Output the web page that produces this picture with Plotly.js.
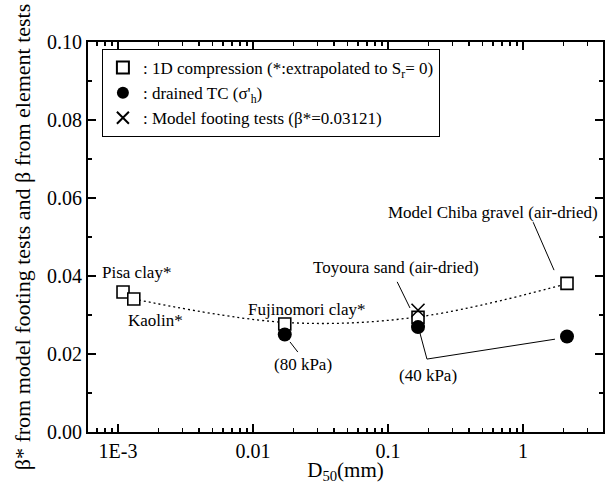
<!DOCTYPE html>
<html>
<head>
<meta charset="utf-8">
<script src="https://cdn.plot.ly/plotly-3.0.1.min.js"></script>
<style>
html,body{margin:0;padding:0;background:#fff;}
#chart{width:606px;height:484px;}
</style>
</head>
<body>
<div id="chart"></div>
<script>
// ---- data (D50 in mm, beta values) ----
const d50_1d  = [0.00109, 0.00131, 0.0172, 0.167, 2.12];
const beta_1d = [0.0359, 0.0341, 0.0277, 0.0294, 0.0381];
const d50_tc  = [0.0172, 0.167, 2.12];
const beta_tc = [0.0250, 0.0269, 0.0245];
const d50_fm  = [0.167];
const beta_fm = [0.03121];
// dotted trend curve
const fit_x = [0.00131, 0.0172, 0.167, 2.12];
const fit_y = [0.0341, 0.0281, 0.0295, 0.0380];
// tick labels
const xTickVals = [0.001, 0.01, 0.1, 1];
const xTickText = ['1E-3', '0.01', '0.1', '1'];
// text labels
const labelText = ['Pisa clay*', 'Kaolin*', 'Fujinomori clay*', 'Toyoura sand (air-dried)', 'Model Chiba gravel (air-dried)', '(80 kPa)', '(40 kPa)'];
const labelX    = [0.00138, 0.00191, 0.025, 0.1146, 0.600, 0.0234, 0.1977];
const labelY    = [0.0408, 0.0287, 0.0313, 0.0421, 0.0564, 0.0172, 0.0146];
// leader lines
const leaders = [
  {x: [1.19, 1.70], y: [0.0538, 0.0415]},
  {x: [0.117, 0.1456], y: [0.0385, 0.0318]},
  {x: [0.0188, 0.0215], y: [0.0231, 0.0205]},
  {x: [0.1725, 0.1945, 1.727], y: [0.0254, 0.0187, 0.0238]}
];

const FONT = 'Liberation Serif';

const minorX = [];
[0.0001, 0.001, 0.01, 0.1, 1].forEach(function(dec){
  for (let k = 2; k <= 9; k++) minorX.push(dec * k);
});

const traces = [];
traces.push({x: fit_x, y: fit_y, mode: 'lines', line: {color: 'black', width: 1.3, dash: '2px,3px', shape: 'spline', smoothing: 1}, showlegend: false, hoverinfo: 'skip'});
leaders.forEach(function(l){
  traces.push({x: l.x, y: l.y, mode: 'lines', line: {color: 'black', width: 1}, showlegend: false, hoverinfo: 'skip'});
});
traces.push({x: d50_1d, y: beta_1d, mode: 'markers', name: ': 1D compression (*:extrapolated to S<sub>r</sub>= 0)',
  marker: {symbol: 'square', size: 12, color: 'white', line: {color: 'black', width: 1.6}}});
traces.push({x: d50_tc, y: beta_tc, mode: 'markers', name: ": drained TC (σ'<sub>h</sub>)",
  marker: {symbol: 'circle', size: 14, color: 'black', line: {color: 'black', width: 0}}});
traces.push({x: d50_fm, y: beta_fm, mode: 'markers', name: ': Model footing tests (β*=0.03121)',
  marker: {symbol: 'x-thin-open', size: 13, color: 'black', line: {color: 'black', width: 1.6}}});

const annotations = labelText.map(function(t, i){
  return {x: Math.log10(labelX[i]), y: labelY[i], xref: 'x', yref: 'y', text: t, showarrow: false,
    xanchor: 'center', yanchor: 'middle', font: {family: FONT, size: 17, color: 'black'}};
});

const layout = {
  width: 606, height: 484,
  margin: {l: 88, r: 3, t: 42, b: 52},
  paper_bgcolor: 'white', plot_bgcolor: 'white',
  font: {family: FONT, size: 20, color: 'black'},
  showlegend: true,
  legend: {x: 0.027, y: 0.982, xanchor: 'left', yanchor: 'top', bgcolor: 'white', bordercolor: 'black', borderwidth: 1,
    font: {family: FONT, size: 17, color: 'black'}, tracegroupgap: 0, itemsizing: 'constant'},
  xaxis: {type: 'log', range: [-3.222, 0.593], tickmode: 'array', tickvals: xTickVals, ticktext: xTickText,
    ticks: 'inside', ticklen: 8, tickwidth: 1.5, tickcolor: 'black', showgrid: false, zeroline: false,
    showline: true, linewidth: 2, linecolor: 'black', mirror: 'allticks',
    minor: {tickmode: 'array', tickvals: minorX, ticks: 'inside', ticklen: 4, tickwidth: 1.5, tickcolor: 'black', showgrid: false},
    tickfont: {family: FONT, size: 20, color: 'black'},
    title: {text: 'D<sub>50</sub>(mm)', font: {family: FONT, size: 21, color: 'black'}, standoff: 2}},
  yaxis: {range: [0, 0.1], dtick: 0.02, tick0: 0, tickformat: '.2f',
    ticks: 'inside', ticklen: 8, tickwidth: 1.5, tickcolor: 'black', showgrid: false, zeroline: false,
    showline: true, linewidth: 2, linecolor: 'black', mirror: 'allticks',
    minor: {dtick: 0.01, ticks: 'inside', ticklen: 4, tickwidth: 1.5, tickcolor: 'black', showgrid: false},
    tickfont: {family: FONT, size: 20, color: 'black'},
    title: {text: 'β* from model footing tests and β from element tests', font: {family: FONT, size: 22, color: 'black'}, standoff: 10}},
  annotations: annotations
};

Plotly.newPlot('chart', traces, layout, {displayModeBar: false, staticPlot: true});
</script>
</body>
</html>
